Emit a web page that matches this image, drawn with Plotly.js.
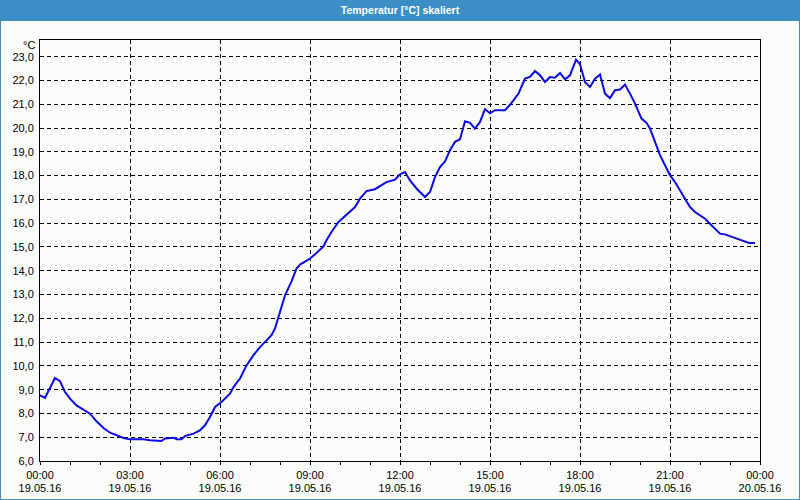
<!DOCTYPE html>
<html>
<head>
<meta charset="utf-8">
<script src="https://cdn.plot.ly/plotly-3.0.1.min.js"></script>
<style>html,body{margin:0;padding:0;background:#fbfdfb;}#chart{width:800px;height:500px;}</style>
</head>
<body>
<div id="chart"></div>
<script>
const day = "2016-05-19";
const times = ["00:00","00:10","00:30","00:40","00:50","01:00","01:13","01:27","01:40","01:53",
"02:07","02:20","02:33","02:47","03:00","03:27","03:40","04:03","04:10","04:27",
"04:33","04:43","04:50","05:07","05:20","05:30","05:40","05:50","06:03","06:20",
"06:27","06:40","06:53","07:07","07:20","07:37","07:43","07:50","07:57","08:10",
"08:23","08:33","08:40","08:50","09:00","09:10","09:27","09:33","09:43","09:57",
"10:10","10:30","10:40","10:53","11:10","11:23","11:33","11:50","12:00","12:10",
"12:20","12:33","12:50","13:00","13:10","13:20","13:30","13:40","13:50","14:00",
"14:10","14:20","14:30","14:40","14:50","15:00","15:10","15:30","15:40","15:57",
"16:10","16:20","16:30","16:40","16:50","17:00","17:10","17:20","17:30","17:40",
"17:52","18:00","18:10","18:20","18:30","18:40","18:50","19:00","19:10","19:20",
"19:30","19:40","19:50","20:03","20:13","20:20","20:30","20:40","20:50","21:00",
"21:10","21:20","21:30","21:40","21:50","22:00","22:10","22:20","22:30","22:40",
"22:50","23:00","23:10","23:20","23:30","23:38","23:50"];
const temps = [8.76,8.65,9.49,9.36,8.90,8.62,8.34,8.17,7.99,7.67,
7.39,7.19,7.09,6.97,6.91,6.91,6.87,6.84,6.95,6.98,
6.91,6.91,7.05,7.15,7.29,7.50,7.85,8.27,8.48,8.83,
9.11,9.47,10.02,10.45,10.79,11.15,11.29,11.57,12.06,12.97,
13.55,14.09,14.26,14.37,14.51,14.69,15.03,15.28,15.63,16.05,
16.29,16.68,17.03,17.35,17.43,17.60,17.73,17.83,18.06,18.15,
17.80,17.46,17.10,17.31,17.94,18.36,18.60,19.07,19.42,19.53,
20.29,20.22,19.98,20.26,20.80,20.62,20.75,20.75,20.98,21.45,
22.08,22.15,22.40,22.22,21.94,22.15,22.12,22.32,22.05,22.22,
22.88,22.68,21.94,21.73,22.08,22.25,21.45,21.26,21.59,21.62,
21.83,21.45,21.03,20.40,20.22,19.98,19.42,18.86,18.44,18.02,
17.73,17.38,16.99,16.68,16.47,16.33,16.19,15.98,15.77,15.56,
15.53,15.45,15.38,15.31,15.21,15.17,15.17];
const titleText = "Temperatur [°C] skaliert";
const unitLabel = "°C";
const xStart = "2016-05-19 00:00";
const xEnd = "2016-05-20 00:00";

const xs = times.map(t => day + " " + t);
const FONT = "Liberation Sans, Arial, sans-serif";
const BLUE = "#3b8fc6";

const W = 800, H = 500, ML = 40, MR = 40, MT = 40, MB = 39;
const pw = W - ML - MR, ph = H - MT - MB;
const px = v => v / pw, py = v => v / ph;

const traces = [
  {x: xs, y: temps, type: "scatter", mode: "lines",
   line: {color: "#0a0ae6", width: 2}, hoverinfo: "skip", showlegend: false},
  {x: xs, y: temps, type: "scatter", mode: "lines", xaxis: "x2",
   line: {color: "rgba(0,0,0,0)", width: 0}, hoverinfo: "skip", showlegend: false}
];

const layout = {
  width: W, height: H,
  margin: {l: ML, r: MR, t: MT, b: MB, pad: 0},
  paper_bgcolor: "#fbfdfb", plot_bgcolor: "#fbfdfb",
  separators: ",.",
  showlegend: false,
  title: {text: titleText, x: 0.5, xref: "container", xanchor: "center",
          y: 1 - 10.5 / H, yref: "container", yanchor: "middle",
          font: {family: FONT, size: 10.5, color: "#ffffff", weight: "bold"}},
  xaxis: {type: "date", range: [xStart, xEnd], dtick: 3 * 3600000, tick0: xStart,
          tickformat: "%H:%M", ticks: "outside", ticklen: 3, tickcolor: "#000",
          tickfont: {family: FONT, size: 11, color: "#000"},
          ticklabelstandoff: 1,
          showgrid: true, gridcolor: "#000", gridwidth: 1, griddash: "4px,3px",
          minor: {dtick: 3600000, ticks: "outside", ticklen: 3, tickcolor: "#000", showgrid: false},
          showline: true, linecolor: "#000", linewidth: 1, mirror: true, zeroline: false,
          fixedrange: true},
  xaxis2: {type: "date", range: [xStart, xEnd], dtick: 3 * 3600000, tick0: xStart,
           tickformat: "%d.%m.%y", ticks: "", overlaying: "x", anchor: "free", position: 0,
           side: "bottom", tickfont: {family: FONT, size: 11, color: "#000"},
           ticklabelstandoff: 19, showgrid: false, showline: false, zeroline: false,
           fixedrange: true},
  yaxis: {range: [6, 6 + ph / 23.78], dtick: 1, tick0: 6, tickformat: ".1f",
          ticks: "", tickfont: {family: FONT, size: 11, color: "#000"},
          ticklabelstandoff: 3,
          showgrid: true, gridcolor: "#000", gridwidth: 1, griddash: "4px,3px",
          showline: true, linecolor: "#000", linewidth: 1, mirror: true, zeroline: false,
          fixedrange: true},
  shapes: [
    {type: "rect", xref: "paper", yref: "paper", layer: "below",
     x0: px(-ML), x1: 1 + px(MR), y0: 1 + py(MT - 20), y1: 1 + py(MT),
     fillcolor: BLUE, line: {width: 0}},
    {type: "rect", xref: "paper", yref: "paper", layer: "below",
     x0: px(-ML), x1: 1 + px(MR), y0: -py(MB), y1: 1 + py(MT - 20),
     fillcolor: "rgba(0,0,0,0)", line: {color: BLUE, width: 2}}
  ],
  annotations: [
    {text: unitLabel, xref: "paper", yref: "paper", x: 0, y: 1 - py(4.5),
     xanchor: "right", yanchor: "middle", xshift: -3, showarrow: false,
     font: {family: FONT, size: 11, color: "#000"}}
  ]
};

Plotly.newPlot("chart", traces, layout, {displayModeBar: false, staticPlot: true});
</script>
</body>
</html>
